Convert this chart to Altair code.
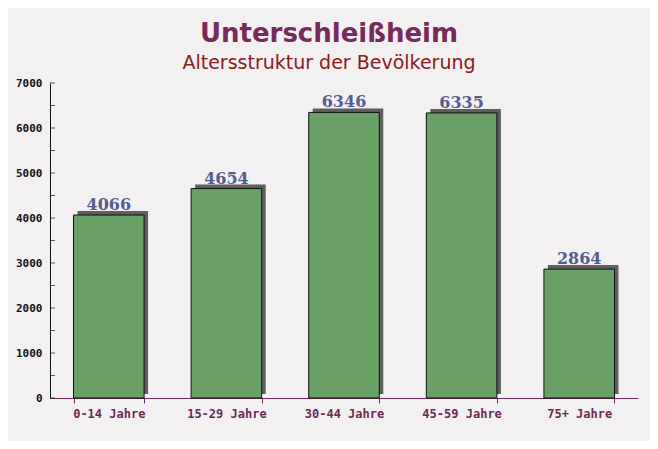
import altair as alt
import pandas as pd

categories = ["0-14 Jahre", "15-29 Jahre", "30-44 Jahre", "45-59 Jahre", "75+ Jahre"]
values = [4066, 4654, 6346, 6335, 2864]
tick_values = list(range(0, 7001, 500))
label_values = list(range(0, 7001, 1000))

df = pd.DataFrame({"Altersgruppe": categories, "Einwohner": values})
ticks_df = pd.DataFrame({"t": tick_values})

x_enc = alt.X("Altersgruppe:N", sort=categories, title=None,
              scale=alt.Scale(paddingInner=0.4, paddingOuter=0.2),
              axis=alt.Axis(labelAngle=0, labelFont="DejaVu Sans Mono", labelFontSize=12,
                            labelFontWeight="bold", labelColor="#6b2a55", labelPadding=5,
                            domainColor="#6b2a55", tickColor="#6b2a55", tickBand="extent",
                            tickSize=5, grid=False))
y_scale = alt.Scale(domain=[0, 7000], nice=False)

shadow = alt.Chart(df).mark_bar(color="#5e5e5e", xOffset=4, yOffset=-4).encode(
    x=x_enc,
    y=alt.Y("Einwohner:Q", scale=y_scale, title=None,
            axis=alt.Axis(values=label_values, format="d", labelFont="DejaVu Sans Mono",
                          labelFontSize=11, labelFontWeight="bold", labelColor="#111111",
                          ticks=False, labelPadding=8, domainColor="#111111", grid=False)),
)
bars = alt.Chart(df).mark_bar(color="#68a066", stroke="#111111", strokeWidth=1).encode(
    x=alt.X("Altersgruppe:N", sort=categories),
    y=alt.Y("Einwohner:Q", scale=y_scale),
)
labels = alt.Chart(df).mark_text(baseline="bottom", dy=-2, font="DejaVu Serif", fontSize=16,
                                 fontWeight="bold", color="#545d8c").encode(
    x=alt.X("Altersgruppe:N", sort=categories),
    y=alt.Y("Einwohner:Q", scale=y_scale),
    text=alt.Text("Einwohner:Q", format="d"),
)
yticks = alt.Chart(ticks_df).mark_tick(orient="horizontal", size=5, thickness=1, color="#111111").encode(
    y=alt.Y("t:Q", scale=y_scale),
    x=alt.value(2.5),
)

chart = alt.layer(shadow, bars, labels, yticks).properties(
    width=588, height=315,
    padding={"left": 42, "top": 75, "right": 12, "bottom": 43},
    autosize=alt.AutoSizeParams(type="none"),
    background="#f3f0f2",
    title=alt.TitleParams(
        text="Unterschleißheim", subtitle="Altersstruktur der Bevölkerung",
        anchor="middle", dx=-15, offset=4,
        font="DejaVu Sans", fontSize=26, fontWeight="bold", color="#772b5b",
        subtitleFont="DejaVu Sans", subtitleFontSize=19, subtitleColor="#8b1a1a",
        subtitlePadding=7,
    ),
).configure_view(stroke=None)

chart.save("out.html", embed_options={"renderer": "svg", "actions": False})
